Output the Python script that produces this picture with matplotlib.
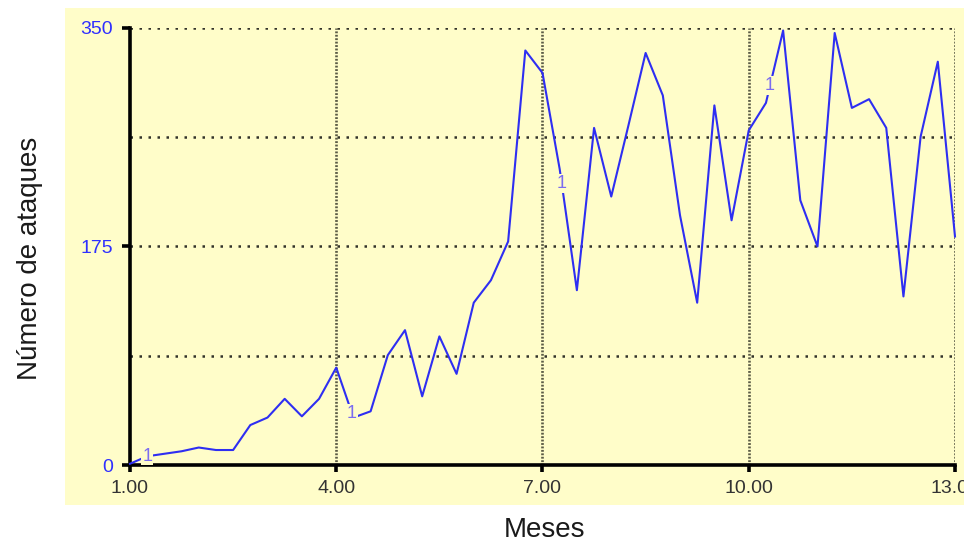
import numpy as np
import matplotlib
matplotlib.use("Agg")
import matplotlib.pyplot as plt
from matplotlib.patches import Rectangle

# ── Data (one value per week) ─────────────────────────────────────────────────
months = np.linspace(1.0, 13.0, 49)
ataques = [
    1, 7, 9, 11, 14, 12, 12, 32, 38, 53, 39, 53, 78,
    38, 43, 88, 108, 55, 103, 73, 130, 148, 179, 332,
    314, 237, 140, 270, 215, 272, 330, 296, 200, 130,
    288, 196, 268, 290, 348, 212, 175, 346, 286, 293,
    270, 135, 263, 323, 183,
]
label_months = [1.25, 4.23, 7.28, 10.31]   # where Vensim stamps the "1" marker
x_ticks = [1, 4, 7, 10, 13]
x_ticklabels = ["1.00", "4.00", "7.00", "10.00", "13.00"]
y_ticks = [0, 175, 350]
y_ticklabels = ["0", "175", "350"]
y_grid = [87.5, 175, 262.5, 350]

YELLOW = "#FFFDC9"
BLUE = "#2E2EF2"

plt.rcParams["font.family"] = ["Liberation Sans", "DejaVu Sans"]

fig = plt.figure(figsize=(9.64, 5.44), dpi=100)
W, H = 964, 544

# yellow panel behind the plot
fig.add_artist(Rectangle((65 / W, 1 - 505 / H), (W - 65) / W, (505 - 8) / H,
                         transform=fig.transFigure, facecolor=YELLOW,
                         edgecolor="none", zorder=-10))

ax = fig.add_axes([130 / W, 1 - 465 / H, 825 / W, 437 / H])
ax.set_facecolor(YELLOW)
ax.set_xlim(1, 13)
ax.set_ylim(0, 350)

# grid: sparse dots horizontally, dense dots vertically
for y in y_grid:
    ax.axhline(y, color="#33332a", lw=1.8, ls=(0, (1, 2.6)), zorder=1)
for x in x_ticks[1:]:
    ax.axvline(x, color="#5a5a45", lw=1.9, ls=(0, (0.7, 0.6)), zorder=1)

ax.plot(months, ataques, color=BLUE, lw=1.5, zorder=3, clip_on=False)

for lm in label_months:
    ax.text(lm, np.interp(lm, months, ataques), "1", color="#7b6cf0",
            fontsize=13, ha="center", va="center", zorder=4,
            bbox=dict(facecolor=YELLOW, edgecolor="none", pad=0.5))

for side in ("top", "right"):
    ax.spines[side].set_visible(False)
for side in ("left", "bottom"):
    ax.spines[side].set_linewidth(2.6)
    ax.spines[side].set_color("black")

ax.set_xticks(x_ticks)
ax.set_xticklabels(x_ticklabels, fontsize=14, color="#333333")
ax.set_yticks(y_ticks)
ax.set_yticklabels(y_ticklabels, fontsize=14, color="#2f2fff")
ax.tick_params(axis="x", length=5, width=2.6, pad=6)
ax.tick_params(axis="y", length=6, width=2.6, pad=6)

fig.text(30 / W, 1 - 258 / H, "Número de ataques", rotation=90,
         ha="center", va="center", fontsize=20, color="#1a1a1a")
fig.text(545 / W, 1 - 530 / H, "Meses", ha="center", va="center",
         fontsize=20, color="#1a1a1a")

fig.savefig("out.png", dpi=100)
